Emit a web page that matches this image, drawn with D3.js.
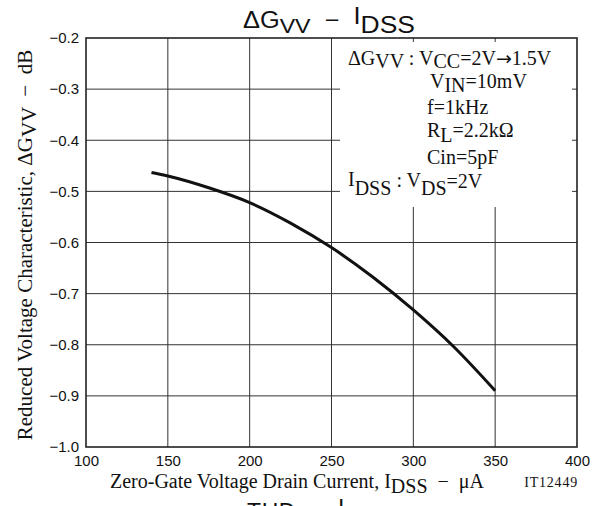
<!DOCTYPE html>
<html>
<head>
<meta charset="utf-8">
<script src="https://cdn.jsdelivr.net/npm/d3@7"></script>
<style>
  body { margin: 0; background: #fff; }
  svg { display: block; }
  text { white-space: pre; }
</style>
</head>
<body>
<script>
const w = 603; // width
const h = 506; // height
const m = { left: 86, right: 26, top: 38, bottom: 59 };

// curve (IDSS in uA, dGvv in dB)
const idss = [140, 150, 175, 200, 225, 250, 275, 300, 325, 350];
const gvv = [-0.463, -0.47, -0.493, -0.522, -0.562, -0.61, -0.667, -0.732, -0.805, -0.89];
const xTicks = [100, 150, 200, 250, 300, 350, 400];
const yTicks = [-0.2, -0.3, -0.4, -0.5, -0.6, -0.7, -0.8, -0.9, -1.0];

const sans = "'Liberation Sans', Arial, sans-serif";
const serif = "'Liberation Serif', 'Times New Roman', serif";

let svg = d3.select("body")
    .append("svg")
    .attr("width", w)
    .attr("height", h);

let x = d3.scaleLinear().domain([100, 400]).range([m.left, w - m.right]);
let y = d3.scaleLinear().domain([-1.0, -0.2]).range([h - m.bottom, m.top]);

// grid
svg.append("g")
    .selectAll("line")
    .data(xTicks.slice(1, -1))
    .enter().append("line")
    .attr("x1", d => x(d)).attr("x2", d => x(d))
    .attr("y1", y(-0.2)).attr("y2", y(-1.0))
    .attr("stroke", "#333").attr("stroke-width", 1);

svg.append("g")
    .selectAll("line")
    .data(yTicks.slice(1, -1))
    .enter().append("line")
    .attr("x1", x(100)).attr("x2", x(400))
    .attr("y1", d => y(d)).attr("y2", d => y(d))
    .attr("stroke", "#333").attr("stroke-width", 1);

// white box behind the conditions text (leaves short ticks at the frame)
svg.append("rect")
    .attr("x", 340)
    .attr("y", y(-0.2) + 4)
    .attr("width", x(400) - 5 - 340)
    .attr("height", 207 - (y(-0.2) + 4))
    .attr("fill", "#fff");

// frame
svg.append("rect")
    .attr("x", x(100)).attr("y", y(-0.2))
    .attr("width", x(400) - x(100))
    .attr("height", y(-1.0) - y(-0.2))
    .attr("fill", "none")
    .attr("stroke", "#222").attr("stroke-width", 1.6);

// tick labels
let xAxis = svg.append("g")
    .attr("transform", `translate(0,${h - m.bottom})`)
    .call(d3.axisBottom(x).tickValues(xTicks).tickSize(0).tickPadding(8).tickFormat(d3.format("d")));
xAxis.select(".domain").remove();
xAxis.selectAll("text").attr("font-family", sans).attr("font-size", 15).attr("fill", "#111");

let yAxis = svg.append("g")
    .attr("transform", `translate(${m.left},0)`)
    .call(d3.axisLeft(y).tickValues(yTicks).tickSize(0).tickPadding(7).tickFormat(d => "\u2212" + d3.format(".1f")(-d)));
yAxis.select(".domain").remove();
yAxis.selectAll("text").attr("font-family", sans).attr("font-size", 15).attr("fill", "#111");

// curve
let line = d3.line()
    .x((d, i) => x(idss[i]))
    .y(d => y(d))
    .curve(d3.curveMonotoneX);

svg.append("path")
    .datum(gvv)
    .attr("d", line)
    .attr("fill", "none")
    .attr("stroke", "#111")
    .attr("stroke-width", 3);

// helper: parts are [text, baseline shift, font size, font family]
function rich(g, parts, px, py, size, family, anchor) {
    let t = g.append("text")
        .attr("x", px).attr("y", py)
        .attr("font-family", family)
        .attr("font-size", size)
        .attr("fill", "#111")
        .attr("text-anchor", anchor || "start");
    let prev = 0;
    parts.forEach(p => {
        let s = t.append("tspan").text(p[0]);
        let off = p[1] || 0;
        if (off !== prev) s.attr("dy", off - prev);
        if (p[2]) s.attr("font-size", p[2]);
        if (p[3]) s.attr("font-family", p[3]);
        prev = off;
    });
    return t;
}

// title
rich(svg, [["\u0394G"], ["VV", 5, 21], ["  \u2212  "], ["I", -4], ["DSS", 5, 24]], 243, 28, 23, sans)
    .attr("textLength", 172)
    .attr("lengthAdjust", "spacingAndGlyphs");
// next chart's title, cut off at the bottom
rich(svg, [["THD  \u2212  "], ["I", -4], ["DSS", 5, 24]], 247, 520, 23, sans)
    .attr("letter-spacing", 0.6);

// conditions
rich(svg, [["\u0394G"], ["VV", 3], [" : V"], ["CC", 3], ["=2V"], ["\u2192", 0, 19, "'DejaVu Sans'"], ["1.5V"]], 348, 65, 20, serif);
rich(svg, [["V"], ["IN", 4], ["=10mV"]], 430, 88, 20, serif);
rich(svg, [["f=1kHz"]], 427, 114, 20, serif);
rich(svg, [["R"], ["L", 5], ["=2.2k\u03a9"]], 427, 137, 20, serif);
rich(svg, [["Cin=5pF"]], 427, 164, 20, serif);
rich(svg, [["I", -2], ["DSS", 7], [" : V", -1], ["DS", 7], ["=2V"]], 348, 188, 20, serif);

// x axis title
rich(svg, [["Zero-Gate Voltage Drain Current, I"], ["DSS", 5], ["  \u2212  \u03bcA"]], 110, 488, 20, serif);
svg.append("text")
    .attr("x", 578).attr("y", 487)
    .attr("text-anchor", "end")
    .attr("font-family", serif).attr("font-size", 14)
    .attr("letter-spacing", 0.8)
    .attr("fill", "#111")
    .text("IT12449");

// y axis title
let yt = svg.append("g").attr("transform", `translate(32,245) rotate(-90)`);
rich(yt, [["Reduced Voltage Characteristic, \u0394G"], ["VV", 4], ["  \u2212  dB"]], 0, 0, 21, serif, "middle");
</script>
</body>
</html>
